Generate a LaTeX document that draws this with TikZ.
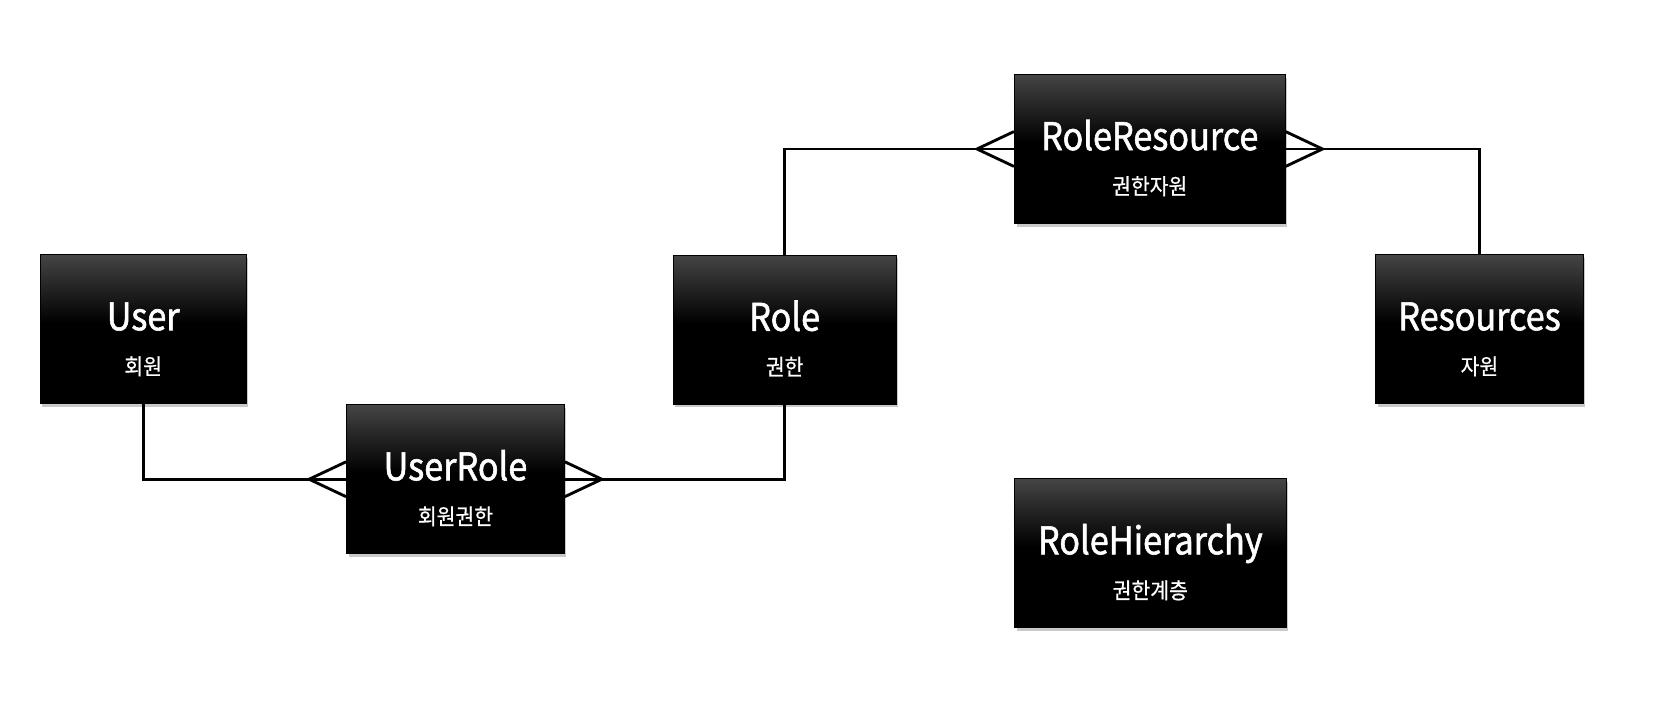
\documentclass[tikz,border=0pt]{standalone}
\usepackage{fontspec}
\setmainfont{Noto Sans CJK KR}
\newfontfamily\titlefont[FakeStretch=0.9,FakeBold=1.5]{Noto Sans CJK KR}
\newfontfamily\subfont[FakeStretch=0.92,FakeBold=0.7]{Noto Sans CJK KR}
\usetikzlibrary{calc,shadows}
\pgfdeclareverticalshading{entshade}{100bp}{color(0bp)=(black); color(25bp)=(black); color(52bp)=(black); color(75bp)=(black!73!white); color(100bp)=(black!73!white)}
\tikzset{
  entbox/.style={draw=black, line width=1pt, shading=entshade, minimum height=141pt, inner sep=0pt,
    drop shadow={shadow xshift=2pt, shadow yshift=-3pt, opacity=0.35, fill=black!60}},
  ttl/.style={text=white, font=\titlefont\fontsize{36}{40}\selectfont, anchor=base, inner sep=0pt},
  sublbl/.style={text=white, font=\subfont\fontsize{21}{24}\selectfont, anchor=base, inner sep=0pt},
  conn/.style={draw=black, line width=2.7pt, line join=miter},
}
\newcommand\entity[6]{%
  \node[entbox, minimum width=#4] (#1) at (#2,-#3) {};
  \node[ttl] (#1-t) at ($(#1.north)+(0,-72)$) {#5};
  \node[sublbl] (#1-s) at ($(#1.north)+(0,-114)$) {#6};
}
\newcommand\crowfoot[2]{%
  \draw[conn] ($(#1)+(0,16.5)$) -- ($(#1)+(#2*35,0)$) -- ($(#1)+(0,-16.5)$);
}
\begin{document}
\begin{tikzpicture}[x=1pt,y=1pt]
  \useasboundingbox[fill=white] (0,0) rectangle (1568,-685);
  \entity{user}{135.5}{311.5}{195pt}{User}{회원}
  \entity{userrole}{431}{453.5}{206pt}{UserRole}{회원권한}
  \entity{role}{742.5}{312}{211pt}{Role}{권한}
  \entity{roleres}{1088}{141}{256pt}{RoleResource}{권한자원}
  \entity{resources}{1400}{311.5}{196pt}{Resources}{자원}
  \entity{rolehier}{1088.5}{523.5}{257pt}{RoleHierarchy}{권한계층}

  \draw[conn] (user.south) |- (userrole.west);
  \draw[conn] (userrole.east) -| (role.south);
  \draw[conn] (role.north) |- (roleres.west);
  \draw[conn] (roleres.east) -| (resources.north);

  \crowfoot{userrole.west}{-1}
  \crowfoot{userrole.east}{1}
  \crowfoot{roleres.west}{-1}
  \crowfoot{roleres.east}{1}
\end{tikzpicture}
\end{document}
